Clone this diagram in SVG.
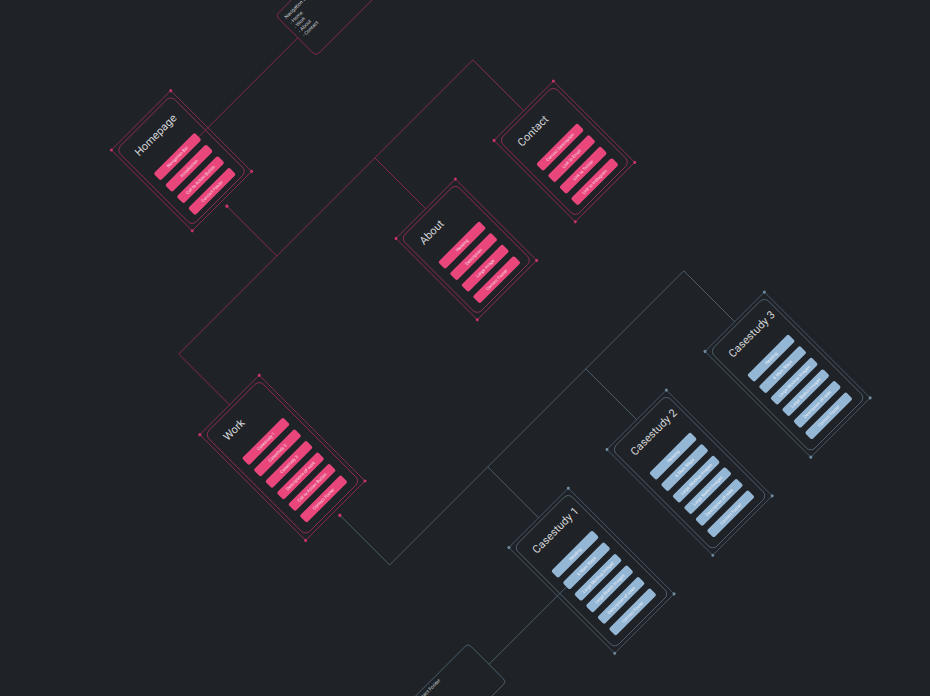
<svg xmlns="http://www.w3.org/2000/svg" width="930" height="696" viewBox="0 0 930 696">
<defs>
<style>
.pl{fill:none;stroke:#8c2753;stroke-width:0.9}
.bl{fill:none;stroke:#4f616f;stroke-width:0.9}
.po{fill:none;stroke:#9a2a5b;stroke-width:0.8}
.pi{fill:none;stroke:#a52d60;stroke-width:0.8}
.bo{fill:none;stroke:#4b5f6e;stroke-width:0.8}
.bi{fill:none;stroke:#566b7b;stroke-width:0.8}
.pd{fill:#c8336f}
.bd{fill:#6f8ba1}
.pb{fill:#e9467c}
.bb{fill:#95b7d6}
.ttl{font-family:Roboto,"Liberation Sans",sans-serif;font-size:11px;fill:#d6d8db}
.bt{font-family:Roboto,"Liberation Sans",sans-serif;font-size:4.3px;fill:#fde6ef;text-anchor:middle}
.bbt{font-family:Roboto,"Liberation Sans",sans-serif;font-size:4.3px;fill:#f1f6fb;text-anchor:middle}
.nt{font-family:Roboto,"Liberation Sans",sans-serif;font-size:5px;fill:#c9ccd0}
</style>
</defs>
<rect width="930" height="696" fill="#1f2226"/>
<g transform="rotate(-45)">
<g id="connectors">
<path class="pl" d="M184,237.3 H14.7"/>
<path class="pl" d="M14.7,306.2 V376.7 M-124,448.6 V376.7 H292 V448.6 M153.4,376.7 V448.6"/>
<circle class="pd" cx="14.7" cy="306.2" r="1.7"/>
<path class="bl" d="M-124,604.6 V675 M-124,675 H292 V747 M14.7,675 V747 M153.4,675 V747"/>
<circle class="pd" cx="-124" cy="604.6" r="1.7"/>
<path class="bl" d="M14.7,815.5 H-124"/>
</g>

<g id="navigation" transform="translate(184,206)">
<rect class="pl" x="0" y="0" width="84" height="57" rx="4"/>
<text class="nt" x="5" y="10">Navigation Bar</text>
<text class="nt" x="5" y="17.5">- Home</text>
<text class="nt" x="5" y="23.5">- Work</text>
<text class="nt" x="5" y="29.5">- About</text>
<text class="nt" x="5" y="35.5">- Contact</text>
</g>

<g id="homepage" transform="translate(-27.3,184.8)">
<rect class="po" x="0" y="0" width="84" height="114.3" rx="1.5"/>
<rect class="pi" x="3.5" y="3.5" width="77" height="107.3" rx="6"/>
<circle class="pd" cx="0" cy="0" r="1.5"/><circle class="pd" cx="84" cy="0" r="1.5"/><circle class="pd" cx="0" cy="114.3" r="1.5"/><circle class="pd" cx="84" cy="114.3" r="1.5"/>
<text class="ttl" x="15" y="24.5">Homepage</text>
<rect class="pb" x="13" y="46.5" width="58" height="10" rx="2"/><text class="bt" x="42" y="53">Navigation Bar</text>
<rect class="pb" x="13" y="62.8" width="58" height="10" rx="2"/><text class="bt" x="42" y="69.3">Introduction</text>
<rect class="pb" x="13" y="79.1" width="58" height="10" rx="2"/><text class="bt" x="42" y="85.6">Call to Action Button</text>
<rect class="pb" x="13" y="95.4" width="58" height="10" rx="2"/><text class="bt" x="42" y="101.9">Contact Footer</text>
</g>

<g id="work" transform="translate(-166,448.6)">
<rect class="po" x="0" y="0" width="84" height="149.6" rx="1.5"/>
<rect class="pi" x="3.5" y="3.5" width="77" height="142.6" rx="6"/>
<circle class="pd" cx="0" cy="0" r="1.5"/><circle class="pd" cx="84" cy="0" r="1.5"/><circle class="pd" cx="0" cy="149.6" r="1.5"/><circle class="pd" cx="84" cy="149.6" r="1.5"/>
<text class="ttl" x="15" y="24.5">Work</text>
<rect class="pb" x="13" y="46.5" width="58" height="10" rx="2"/><text class="bt" x="42" y="53">Casestudy 1</text>
<rect class="pb" x="13" y="62.8" width="58" height="10" rx="2"/><text class="bt" x="42" y="69.3">Casestudy 2</text>
<rect class="pb" x="13" y="79.1" width="58" height="10" rx="2"/><text class="bt" x="42" y="85.6">Casestudy 3</text>
<rect class="pb" x="13" y="95.4" width="58" height="10" rx="2"/><text class="bt" x="42" y="101.9">Descriptions of work</text>
<rect class="pb" x="13" y="111.7" width="58" height="10" rx="2"/><text class="bt" x="42" y="118.2">Call to Action Button</text>
<rect class="pb" x="13" y="128" width="58" height="10" rx="2"/><text class="bt" x="42" y="134.5">Contact Footer</text>
</g>

<g id="about" transform="translate(111.4,448.6)">
<rect class="po" x="0" y="0" width="84" height="115" rx="1.5"/>
<rect class="pi" x="3.5" y="3.5" width="77" height="108" rx="6"/>
<circle class="pd" cx="0" cy="0" r="1.5"/><circle class="pd" cx="84" cy="0" r="1.5"/><circle class="pd" cx="0" cy="115" r="1.5"/><circle class="pd" cx="84" cy="115" r="1.5"/>
<text class="ttl" x="15" y="24.5">About</text>
<rect class="pb" x="13" y="46.5" width="58" height="10" rx="2"/><text class="bt" x="42" y="53">Heading</text>
<rect class="pb" x="13" y="62.8" width="58" height="10" rx="2"/><text class="bt" x="42" y="69.3">Description</text>
<rect class="pb" x="13" y="79.1" width="58" height="10" rx="2"/><text class="bt" x="42" y="85.6">Large Image</text>
<rect class="pb" x="13" y="95.4" width="58" height="10" rx="2"/><text class="bt" x="42" y="101.9">Contact Footer</text>
</g>

<g id="contact" transform="translate(250,448.6)">
<rect class="po" x="0" y="0" width="84" height="115" rx="1.5"/>
<rect class="pi" x="3.5" y="3.5" width="77" height="108" rx="6"/>
<circle class="pd" cx="0" cy="0" r="1.5"/><circle class="pd" cx="84" cy="0" r="1.5"/><circle class="pd" cx="0" cy="115" r="1.5"/><circle class="pd" cx="84" cy="115" r="1.5"/>
<text class="ttl" x="15" y="24.5">Contact</text>
<rect class="pb" x="13" y="46.5" width="58" height="10" rx="2"/><text class="bt" x="42" y="53">Contact Description</text>
<rect class="pb" x="13" y="62.8" width="58" height="10" rx="2"/><text class="bt" x="42" y="69.3">Link to Email</text>
<rect class="pb" x="13" y="79.1" width="58" height="10" rx="2"/><text class="bt" x="42" y="85.6">Link to Twitter</text>
<rect class="pb" x="13" y="95.4" width="58" height="10" rx="2"/><text class="bt" x="42" y="101.9">Link to Instagram</text>
</g>

<g id="casestudy1" transform="translate(-27.3,747)">
<rect class="bo" x="0" y="0" width="84" height="149.6" rx="1.5"/>
<rect class="bi" x="3.5" y="3.5" width="77" height="142.6" rx="6"/>
<circle class="bd" cx="0" cy="0" r="1.5"/><circle class="bd" cx="84" cy="0" r="1.5"/><circle class="bd" cx="0" cy="149.6" r="1.5"/><circle class="bd" cx="84" cy="149.6" r="1.5"/>
<text class="ttl" x="15" y="24.5">Casestudy 1</text>
<rect class="bb" x="13" y="46.5" width="58" height="10" rx="2"/><text class="bbt" x="42" y="53">Heading</text>
<rect class="bb" x="13" y="62.8" width="58" height="10" rx="2"/><text class="bbt" x="42" y="69.3">6 Main Steps</text>
<rect class="bb" x="13" y="79.1" width="58" height="10" rx="2"/><text class="bbt" x="42" y="85.6">Large Mockup Images</text>
<rect class="bb" x="13" y="95.4" width="58" height="10" rx="2"/><text class="bbt" x="42" y="101.9">Large Sketch Images</text>
<rect class="bb" x="13" y="111.7" width="58" height="10" rx="2"/><text class="bbt" x="42" y="118.2">Description of roles</text>
<rect class="bb" x="13" y="128" width="58" height="10" rx="2"/><text class="bbt" x="42" y="134.5">Contact Footer</text>
</g>

<g id="casestudy2" transform="translate(111.4,747)">
<rect class="bo" x="0" y="0" width="84" height="149.6" rx="1.5"/>
<rect class="bi" x="3.5" y="3.5" width="77" height="142.6" rx="6"/>
<circle class="bd" cx="0" cy="0" r="1.5"/><circle class="bd" cx="84" cy="0" r="1.5"/><circle class="bd" cx="0" cy="149.6" r="1.5"/><circle class="bd" cx="84" cy="149.6" r="1.5"/>
<text class="ttl" x="15" y="24.5">Casestudy 2</text>
<rect class="bb" x="13" y="46.5" width="58" height="10" rx="2"/><text class="bbt" x="42" y="53">Heading</text>
<rect class="bb" x="13" y="62.8" width="58" height="10" rx="2"/><text class="bbt" x="42" y="69.3">6 Main Steps</text>
<rect class="bb" x="13" y="79.1" width="58" height="10" rx="2"/><text class="bbt" x="42" y="85.6">Large Mockup Images</text>
<rect class="bb" x="13" y="95.4" width="58" height="10" rx="2"/><text class="bbt" x="42" y="101.9">Large Sketch Images</text>
<rect class="bb" x="13" y="111.7" width="58" height="10" rx="2"/><text class="bbt" x="42" y="118.2">Description of roles</text>
<rect class="bb" x="13" y="128" width="58" height="10" rx="2"/><text class="bbt" x="42" y="134.5">Contact Footer</text>
</g>

<g id="casestudy3" transform="translate(250,747)">
<rect class="bo" x="0" y="0" width="84" height="149.6" rx="1.5"/>
<rect class="bi" x="3.5" y="3.5" width="77" height="142.6" rx="6"/>
<circle class="bd" cx="0" cy="0" r="1.5"/><circle class="bd" cx="84" cy="0" r="1.5"/><circle class="bd" cx="0" cy="149.6" r="1.5"/><circle class="bd" cx="84" cy="149.6" r="1.5"/>
<text class="ttl" x="15" y="24.5">Casestudy 3</text>
<rect class="bb" x="13" y="46.5" width="58" height="10" rx="2"/><text class="bbt" x="42" y="53">Heading</text>
<rect class="bb" x="13" y="62.8" width="58" height="10" rx="2"/><text class="bbt" x="42" y="69.3">6 Main Steps</text>
<rect class="bb" x="13" y="79.1" width="58" height="10" rx="2"/><text class="bbt" x="42" y="85.6">Large Mockup Images</text>
<rect class="bb" x="13" y="95.4" width="58" height="10" rx="2"/><text class="bbt" x="42" y="101.9">Large Sketch Images</text>
<rect class="bb" x="13" y="111.7" width="58" height="10" rx="2"/><text class="bbt" x="42" y="118.2">Description of roles</text>
<rect class="bb" x="13" y="128" width="58" height="10" rx="2"/><text class="bbt" x="42" y="134.5">Contact Footer</text>
</g>

<g id="footer-note" transform="translate(-208,786)">
<rect class="bl" x="0" y="0" width="84" height="54" rx="4"/>
<text class="nt" x="5" y="7">Contact Footer</text>
</g>
</g>
</svg>
